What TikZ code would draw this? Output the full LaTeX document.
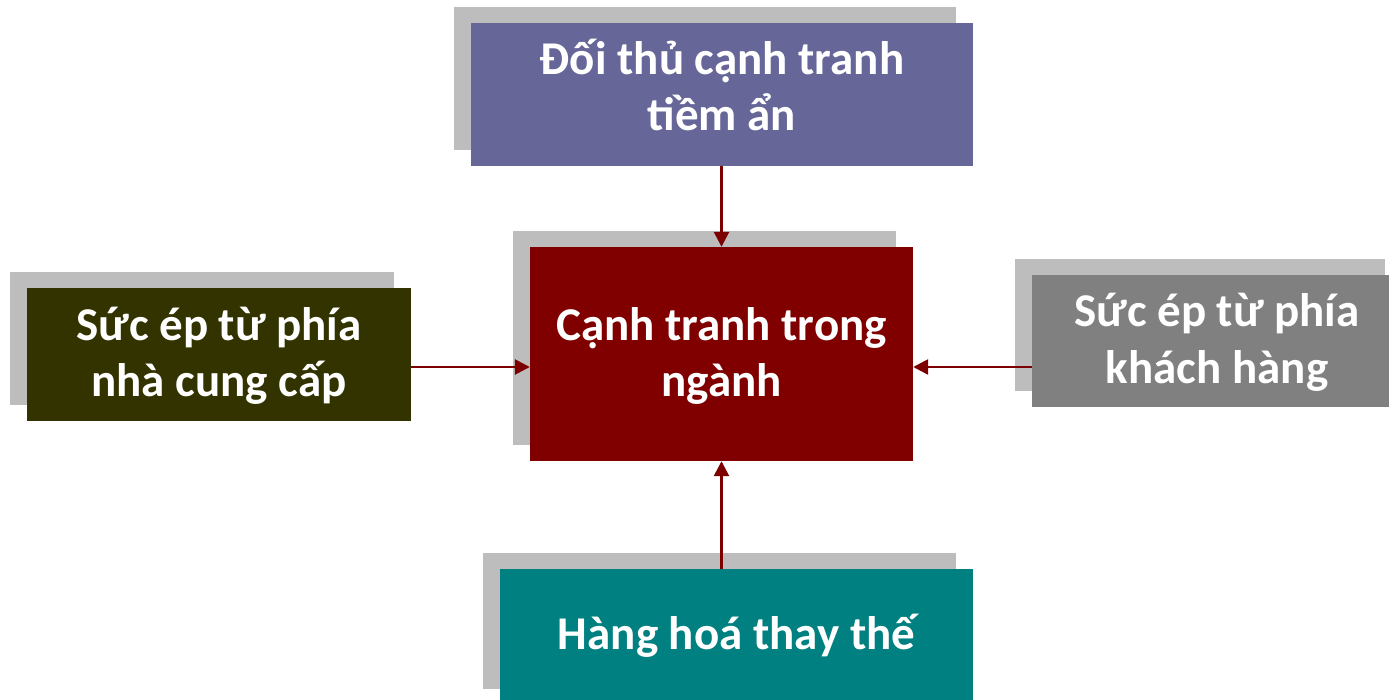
\documentclass[tikz,border=0pt]{standalone}
\usepackage{fontspec}
\setmainfont{Carlito}
\usetikzlibrary{arrows.meta,shadows}

\definecolor{boxshadow}{RGB}{189,189,189}
\definecolor{entrant}{RGB}{102,102,153}
\definecolor{rivalry}{RGB}{128,0,0}
\definecolor{supplier}{RGB}{51,51,0}
\definecolor{buyer}{RGB}{128,128,128}
\definecolor{substitute}{RGB}{0,128,128}
\definecolor{linkred}{RGB}{124,0,0}

\tikzset{
  force/.style={
    rectangle, inner sep=0pt, align=center, text=white,
    font=\bfseries\fontsize{47}{56}\selectfont,
    text height=90pt, text depth=6pt,
    drop shadow={shadow xshift=-17pt, shadow yshift=16pt,
                 fill=boxshadow, opacity=1}
  },
  oneline/.style={text height=34pt, text depth=10pt},
  link/.style={draw=linkred, line width=2.6pt,
    -{Triangle[length=15pt,width=15pt]}}
}

\begin{document}
\begin{tikzpicture}[x=1pt,y=-1pt]
  \useasboundingbox (0,0) rectangle (1389,700);

  % the five forces
  \node[force, fill=entrant, minimum width=502pt, minimum height=143pt,
        text depth=17pt]
    (entrants) at (722,94.5) {Đối thủ cạnh tranh\\tiềm ẩn};
  \node[force, fill=rivalry, minimum width=383pt, minimum height=214pt]
    (industry) at (721.5,354) {Cạnh tranh trong\\ngành};
  \node[force, fill=supplier, minimum width=384pt, minimum height=133pt]
    (suppliers) at (219,354.5) {Sức ép từ phía\\nhà cung cấp};
  \node[force, fill=buyer, minimum width=370pt, minimum height=132pt]
    (buyers) at (1217,341) {Sức ép từ phía\\khách hàng};
  \node[force, oneline, fill=substitute, minimum width=473pt, minimum height=136pt]
    (substitutes) at (736.5,637) {Hàng hoá thay thế};

  % pressures acting on the industry
  \coordinate (level) at (0,367);
  \draw[link] (entrants.south -| industry.north) -- (industry.north);
  \draw[link] (suppliers.east |- level) -- (industry.west |- level);
  \draw[link] (buyers.west |- level) -- (industry.east |- level);
  \draw[link] (substitutes.north -| industry.south) -- (industry.south);
\end{tikzpicture}
\end{document}
